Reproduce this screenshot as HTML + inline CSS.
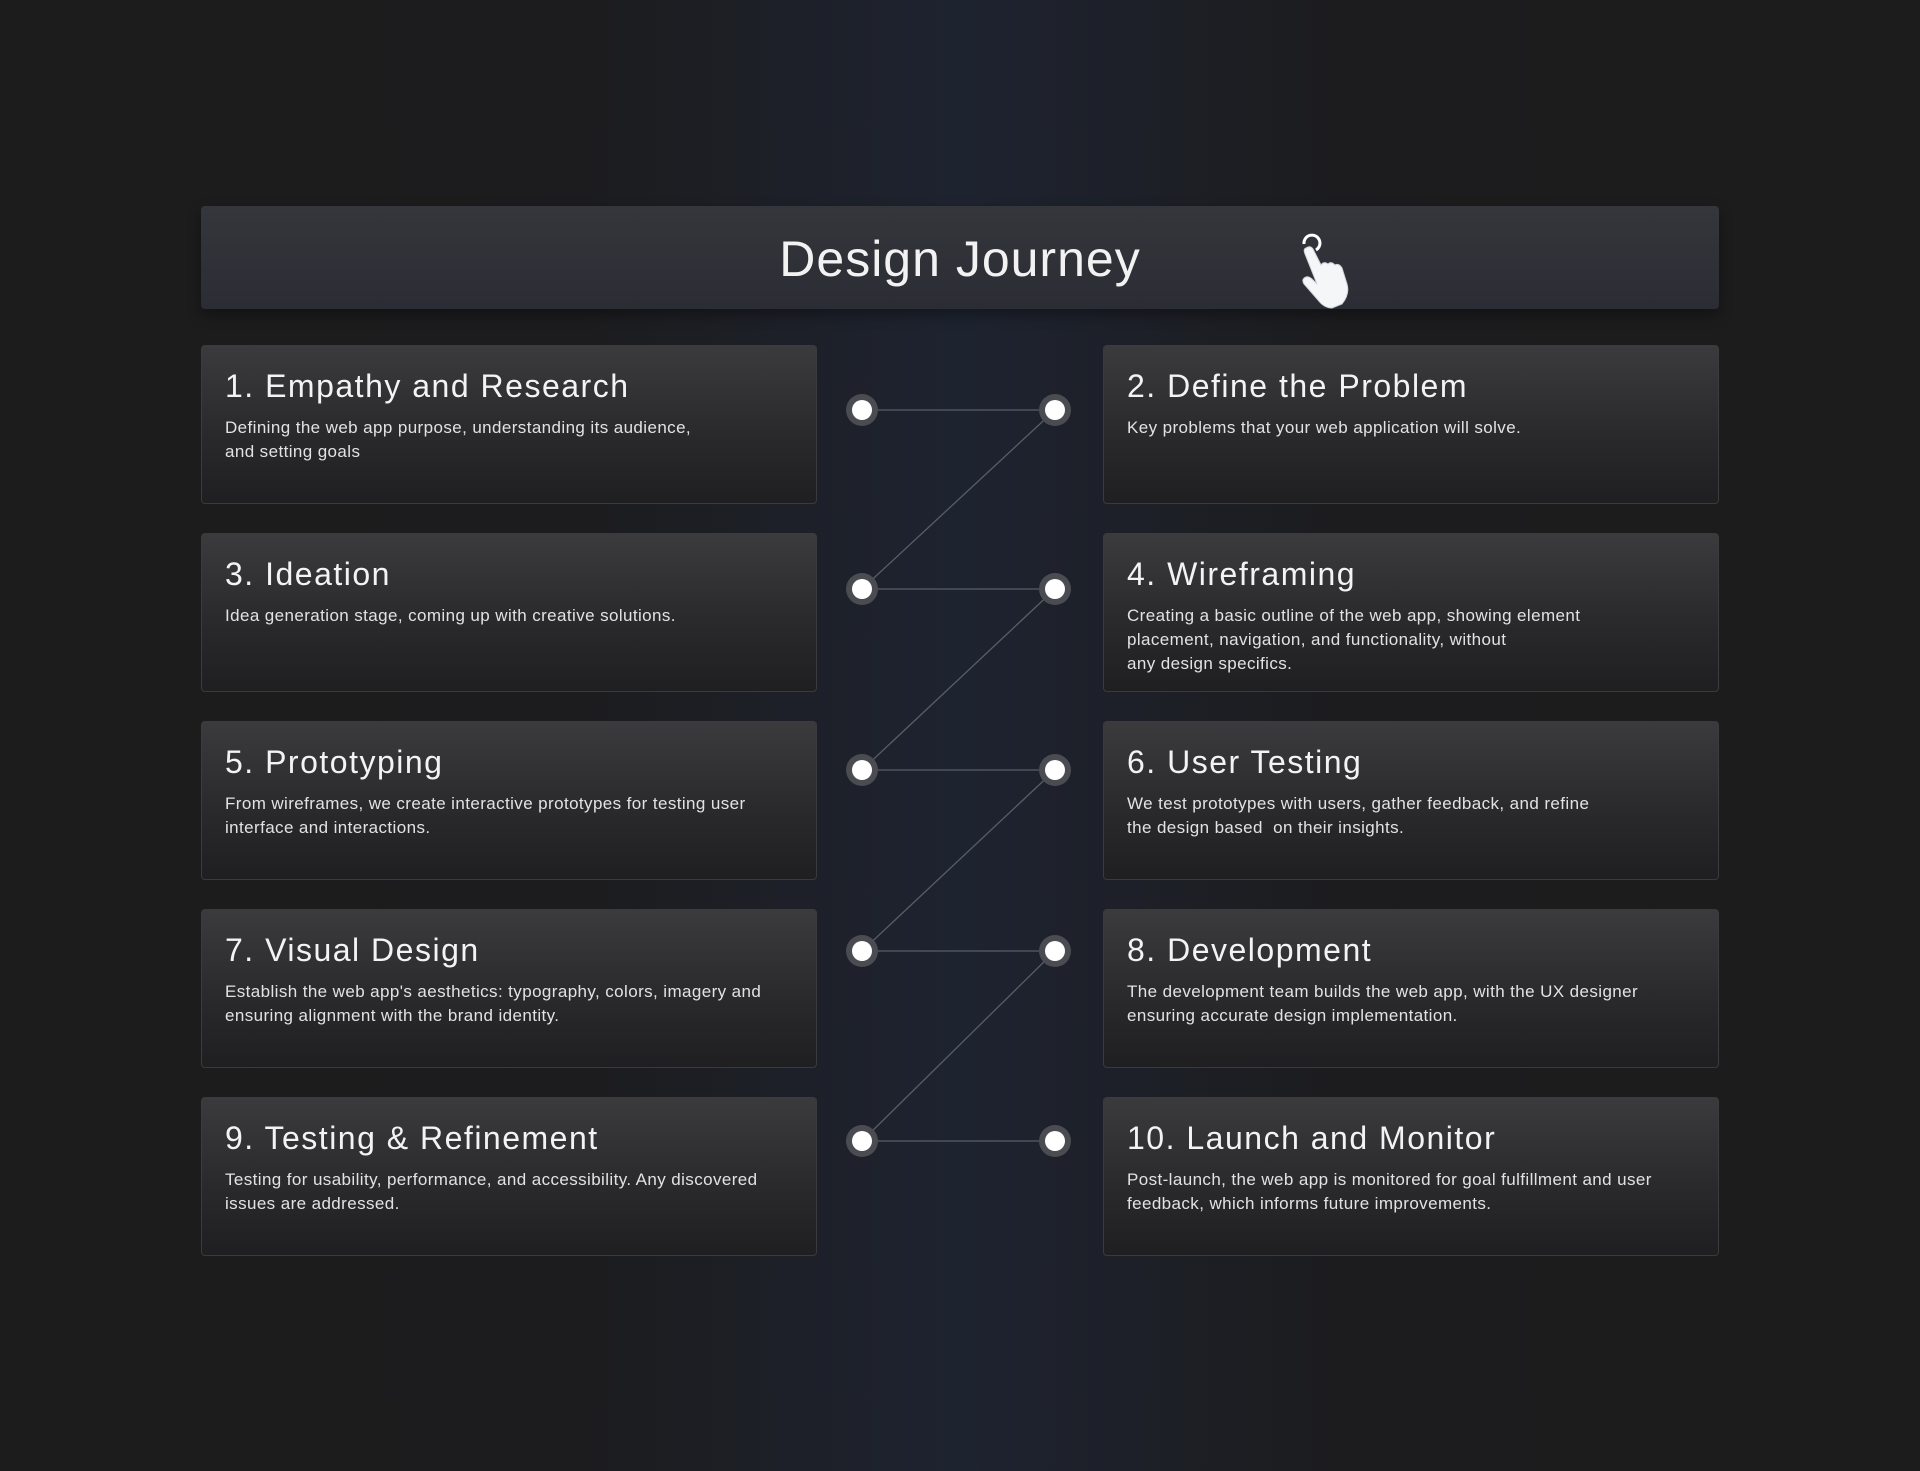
<!DOCTYPE html>
<html><head><meta charset="utf-8"><style>
html,body{margin:0;padding:0}
body{width:1920px;height:1471px;overflow:hidden;position:relative;font-family:"Liberation Sans",sans-serif;
background:linear-gradient(90deg,#1c1c1c 0%,#1c1c1e 30%,#1e2330 50%,#1c1c1e 70%,#1c1c1c 100%);}
.hdr{position:absolute;left:201px;top:206px;width:1518px;height:103px;border-radius:4px;
background:linear-gradient(180deg,#34363c,#2a2d33);box-shadow:0 6px 14px rgba(0,0,0,.35);}
.hdr h1{margin:0;position:absolute;left:0;right:0;top:24px;text-align:center;color:#f2f2f2;font-weight:normal;font-size:50px;letter-spacing:1px}
.card{position:absolute;width:616px;height:159px;border:1px solid #3a3b3e;border-radius:4px;box-sizing:border-box;
background:linear-gradient(180deg,#3b3b3d 0%,#2a2a2c 55%,#1f1f21 100%);}
.card h2{margin:0;position:absolute;left:23px;top:22px;color:#f3f3f3;font-weight:normal;font-size:32px;letter-spacing:1.5px}
.card p{margin:0;position:absolute;left:23px;top:70px;width:580px;color:#e2e2e2;font-size:17px;line-height:24px;letter-spacing:.4px}
.L{left:201px}.R{left:1103px}
svg{position:absolute;left:0;top:0}
</style></head><body>
<div class="hdr"><h1>Design Journey</h1></div>
<svg width="1920" height="1471">
<g stroke="#5a5d66" stroke-width="1.3">
<line x1="862" y1="410" x2="1055" y2="410"/>
<line x1="862" y1="589" x2="1055" y2="589"/>
<line x1="862" y1="770" x2="1055" y2="770"/>
<line x1="862" y1="951" x2="1055" y2="951"/>
<line x1="862" y1="1141" x2="1055" y2="1141"/>
<line x1="1055" y1="410" x2="862" y2="589"/>
<line x1="1055" y1="589" x2="862" y2="770"/>
<line x1="1055" y1="770" x2="862" y2="951"/>
<line x1="1055" y1="951" x2="862" y2="1141"/>
</g>
<g>
<g fill="#4a4c52"><circle cx="862" cy="410" r="16"/><circle cx="1055" cy="410" r="16"/><circle cx="862" cy="589" r="16"/><circle cx="1055" cy="589" r="16"/><circle cx="862" cy="770" r="16"/><circle cx="1055" cy="770" r="16"/><circle cx="862" cy="951" r="16"/><circle cx="1055" cy="951" r="16"/><circle cx="862" cy="1141" r="16"/><circle cx="1055" cy="1141" r="16"/></g>
<g fill="#fff"><circle cx="862" cy="410" r="10"/><circle cx="1055" cy="410" r="10"/><circle cx="862" cy="589" r="10"/><circle cx="1055" cy="589" r="10"/><circle cx="862" cy="770" r="10"/><circle cx="1055" cy="770" r="10"/><circle cx="862" cy="951" r="10"/><circle cx="1055" cy="951" r="10"/><circle cx="862" cy="1141" r="10"/><circle cx="1055" cy="1141" r="10"/></g>
</g>
<g transform="translate(1296,238)">
<path d="M8 6 a8 8 0 1 1 12 6" fill="none" stroke="#fff" stroke-width="3"/>
<path d="M10 10 q4-3 7 1 l8 16 q3-4 7-1 q3-3 7 1 q4-2 7 3 l5 16 q3 10-5 20 l-10 4 q-8 0-14-8 l-14-16 q-3-5 2-7 q3-1 7 3 l4 4 l-12-30 q-2-5 1-6z" fill="#f4f6f8" stroke="#cfd4da" stroke-width="1"/>
</g>
</svg>
<div class="card L" style="top:345px"><h2>1. Empathy and Research</h2><p>Defining the web app purpose, understanding its audience,<br>and setting goals</p></div>
<div class="card R" style="top:345px"><h2>2. Define the Problem</h2><p>Key problems that your web application will solve.</p></div>
<div class="card L" style="top:533px"><h2>3. Ideation</h2><p>Idea generation stage, coming up with creative solutions.</p></div>
<div class="card R" style="top:533px"><h2>4. Wireframing</h2><p>Creating a basic outline of the web app, showing element<br>placement, navigation, and functionality, without<br>any design specifics.</p></div>
<div class="card L" style="top:721px"><h2>5. Prototyping</h2><p>From wireframes, we create interactive prototypes for testing user<br>interface and interactions.</p></div>
<div class="card R" style="top:721px"><h2>6. User Testing</h2><p>We test prototypes with users, gather feedback, and refine<br>the design based &nbsp;on their insights.</p></div>
<div class="card L" style="top:909px"><h2>7. Visual Design</h2><p>Establish the web app's aesthetics: typography, colors, imagery and<br>ensuring alignment with the brand identity.</p></div>
<div class="card R" style="top:909px"><h2>8. Development</h2><p>The development team builds the web app, with the UX designer<br>ensuring accurate design implementation.</p></div>
<div class="card L" style="top:1097px"><h2>9. Testing &amp; Refinement</h2><p>Testing for usability, performance, and accessibility. Any discovered<br>issues are addressed.</p></div>
<div class="card R" style="top:1097px"><h2>10. Launch and Monitor</h2><p>Post-launch, the web app is monitored for goal fulfillment and user<br>feedback, which informs future improvements.</p></div>
</body></html>
